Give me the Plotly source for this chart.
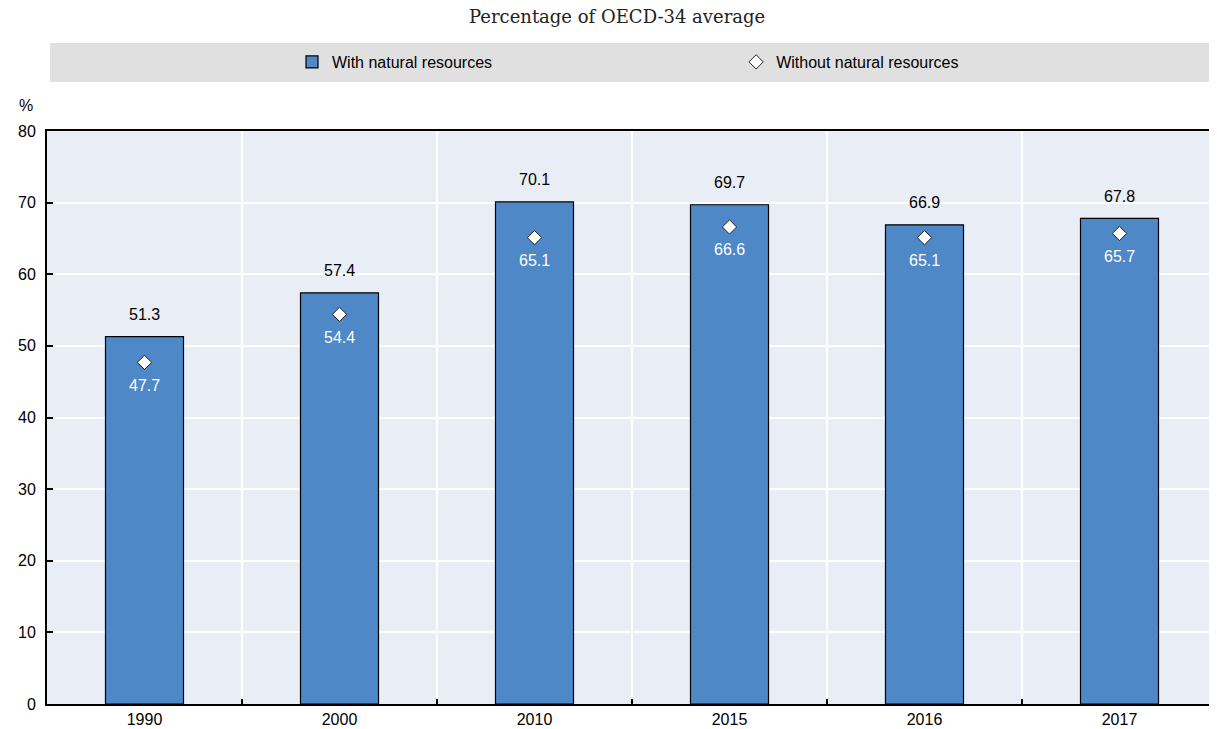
import plotly.graph_objects as go

years = ["1990", "2000", "2010", "2015", "2016", "2017"]
with_nr = [51.3, 57.4, 70.1, 69.7, 66.9, 67.8]
without_nr = [47.7, 54.4, 65.1, 66.6, 65.1, 65.7]

xpos = list(range(len(years)))
FONT = "Liberation Sans, Arial, sans-serif"

fig = go.Figure()
fig.add_trace(go.Bar(
    x=xpos, y=with_nr, name="With natural resources", width=0.4, legend="legend",
    marker=dict(color="#4E88C7", line=dict(color="black", width=1.2)),
))
fig.add_trace(go.Scatter(
    x=xpos, y=without_nr, name="Without natural resources", mode="markers", legend="legend2",
    marker=dict(symbol="diamond", size=11, color="white", line=dict(color="#222222", width=1)),
))

for xi, v in zip(xpos, with_nr):
    fig.add_annotation(x=xi, y=v, text=f"{v:.1f}", showarrow=False, yanchor="middle",
                       yshift=22, font=dict(family=FONT, size=16, color="black"))
for xi, v in zip(xpos, without_nr):
    fig.add_annotation(x=xi, y=v, text=f"{v:.1f}", showarrow=False, yanchor="middle",
                       yshift=-23, font=dict(family=FONT, size=16, color="white"))

# legend band
fig.add_shape(type="rect", xref="paper", yref="paper", x0=0.0026, x1=1.0,
              y0=1.0855, y1=1.1536, fillcolor="#E0E0E0", line=dict(width=0), layer="below")

fig.add_annotation(text="Percentage of OECD-34 average", xref="paper", yref="paper",
                   x=0.487, y=1.199, xanchor="center", yanchor="middle", showarrow=False,
                   font=dict(family="DejaVu Serif", size=18, color="#222222"))
fig.add_annotation(text="%", xref="paper", yref="paper", x=-0.018, y=1.045,
                   xanchor="center", yanchor="middle", showarrow=False,
                   font=dict(family=FONT, size=16, color="black"))

leg_common = dict(orientation="h", yanchor="middle", y=1.1204, xanchor="left",
                  bgcolor="rgba(0,0,0,0)", font=dict(family=FONT, size=16),
                  itemclick=False, itemdoubleclick=False)

fig.update_layout(
    width=1209, height=729,
    margin=dict(l=39, r=0, t=123, b=33),
    paper_bgcolor="white", plot_bgcolor="#E9EDF5",
    font=dict(family=FONT, size=16, color="black"),
    showlegend=True,
    legend=dict(x=0.2094, **leg_common),
    legend2=dict(x=0.589, **leg_common),
    xaxis=dict(range=[-0.5, 5.5], tickvals=xpos, ticktext=years, showgrid=False,
               showline=True, linecolor="black", linewidth=2, mirror=True,
               ticks="", zeroline=False,
               minor=dict(tickvals=[0.5, 1.5, 2.5, 3.5, 4.5], showgrid=True,
                          gridcolor="white", gridwidth=1.5, ticks="inside",
                          ticklen=5, tickcolor="black", tickwidth=2)),
    yaxis=dict(range=[0, 80], dtick=10, showgrid=True, gridcolor="white", gridwidth=1.5,
               showline=True, linecolor="black", linewidth=2, ticks="inside",
               ticklen=6, tickcolor="black", tickwidth=1.5, zeroline=False,
               ticklabelstandoff=6),
)

fig.write_html("out.html")
